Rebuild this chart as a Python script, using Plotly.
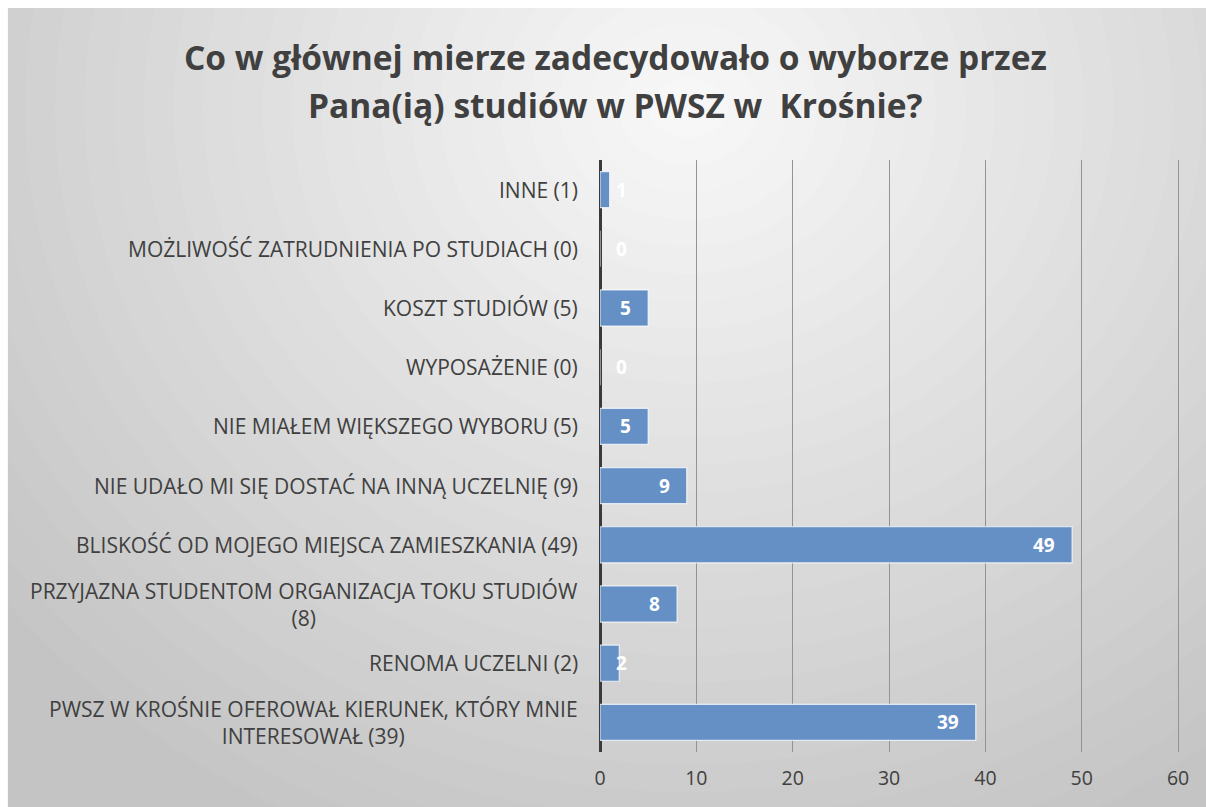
import plotly.graph_objects as go

categories = [
    "PWSZ W KROŚNIE OFEROWAŁ KIERUNEK, KTÓRY MNIE<br>INTERESOWAŁ (39)",
    "RENOMA UCZELNI (2)",
    "PRZYJAZNA STUDENTOM ORGANIZACJA TOKU STUDIÓW<br>(8)",
    "BLISKOŚĆ OD MOJEGO MIEJSCA ZAMIESZKANIA (49)",
    "NIE UDAŁO MI SIĘ DOSTAĆ NA INNĄ UCZELNIĘ (9)",
    "NIE MIAŁEM WIĘKSZEGO WYBORU (5)",
    "WYPOSAŻENIE (0)",
    "KOSZT STUDIÓW (5)",
    "MOŻLIWOŚĆ ZATRUDNIENIA PO STUDIACH (0)",
    "INNE (1)",
]
values = [39, 2, 8, 49, 9, 5, 0, 5, 0, 1]
x_ticks = [0, 10, 20, 30, 40, 50, 60]
title_lines = ["Co w głównej mierze zadecydowało o wyborze przez",
               "Pana(ią) studiów w PWSZ w  Krośnie?"]

# page body margin removed below, so figure pixels == screen pixels
W, H = 1206, 807
X_MAX = 60.3
ML, MT, MB = 600, 160, 55
PW = 578 * X_MAX / 60.0
MR = W - ML - PW
PH = H - MT - MB
FONT = "'Open Sans', Lato, sans-serif"
TXT = "#404040"


def px2x(p):
    return (p - ML) / PW


def py2y(p):
    return (H - MB - p) / PH


fig = go.Figure()
fig.add_trace(go.Bar(
    y=categories, x=values, orientation="h",
    marker=dict(color="#6490c6", line=dict(color="rgba(255,255,255,0.75)", width=1.2)),
    hoverinfo="skip",
))

shapes = []
N = 30
cx, cy = 688, 108
rx_max, ry_max = 900, 820
c_out, c_in = 0xc4, 0xf7
for i in range(N):
    t = i / (N - 1)
    rx = rx_max * (1 - t) + 40 * t
    ry = ry_max * (1 - t) + 30 * t
    c = int(round(c_out + (c_in - c_out) * t))
    col = "#%02x%02x%02x" % (c, c, c)
    shapes.append(dict(type="circle", xref="paper", yref="paper", layer="below",
                       x0=px2x(cx - rx), x1=px2x(cx + rx), y0=py2y(cy + ry), y1=py2y(cy - ry),
                       fillcolor=col, line=dict(width=0)))
# white strips at top and left of the chart image
shapes.append(dict(type="rect", xref="paper", yref="paper", layer="below",
                   x0=px2x(-10), x1=px2x(W + 10), y0=py2y(8), y1=py2y(-10),
                   fillcolor="white", line=dict(width=0)))
shapes.append(dict(type="rect", xref="paper", yref="paper", layer="below",
                   x0=px2x(-10), x1=px2x(8), y0=py2y(H + 10), y1=py2y(-10),
                   fillcolor="white", line=dict(width=0)))

annotations = []
for line, yc in zip(title_lines, [57, 105]):
    annotations.append(dict(x=px2x(615), y=py2y(yc), xref="paper", yref="paper", text=line,
                            showarrow=False, xanchor="center", yanchor="middle",
                            font=dict(family=FONT, size=33.5, color=TXT, weight="bold")))
for c in categories:
    annotations.append(dict(x=0, y=c, xref="x", yref="y", text=c, showarrow=False,
                            xanchor="right", yanchor="middle", align="center", xshift=-20,
                            font=dict(family=FONT, size=21, color=TXT)))
for c, v in zip(categories, values):
    if v >= 3:
        annotations.append(dict(x=v, y=c, xref="x", yref="y", text=str(v), showarrow=False,
                                xanchor="right", yanchor="middle", xshift=-15,
                                font=dict(family=FONT, size=19, color="white", weight="bold")))
    else:
        annotations.append(dict(x=0, y=c, xref="x", yref="y", text=str(v), showarrow=False,
                                xanchor="left", yanchor="middle", xshift=14,
                                font=dict(family=FONT, size=19, color="white", weight="bold")))

fig.update_layout(
    width=W, height=H,
    margin=dict(l=ML, r=MR, t=MT, b=MB, pad=0),
    paper_bgcolor="#c4c4c4", plot_bgcolor="rgba(0,0,0,0)",
    bargap=0.39,
    showlegend=False,
    shapes=shapes,
    annotations=annotations,
    xaxis=dict(range=[0, X_MAX], tickvals=x_ticks, showgrid=True, gridcolor="#939393", gridwidth=1,
               zeroline=True, zerolinecolor="#3a3a3a", zerolinewidth=3, showline=False,
               tickfont=dict(family=FONT, size=19.5, color=TXT), ticks="", ticklabelstandoff=12,
               fixedrange=True),
    yaxis=dict(range=[-0.5, 9.5], showticklabels=False, showgrid=False, zeroline=False,
               showline=False, ticks="", fixedrange=True),
)

fig.write_html("out.html",
               config={"displayModeBar": False, "staticPlot": True},
               post_script="document.body.style.margin='0';"
                           "document.documentElement.style.overflow='hidden';"
                           "document.body.style.overflow='hidden';")
